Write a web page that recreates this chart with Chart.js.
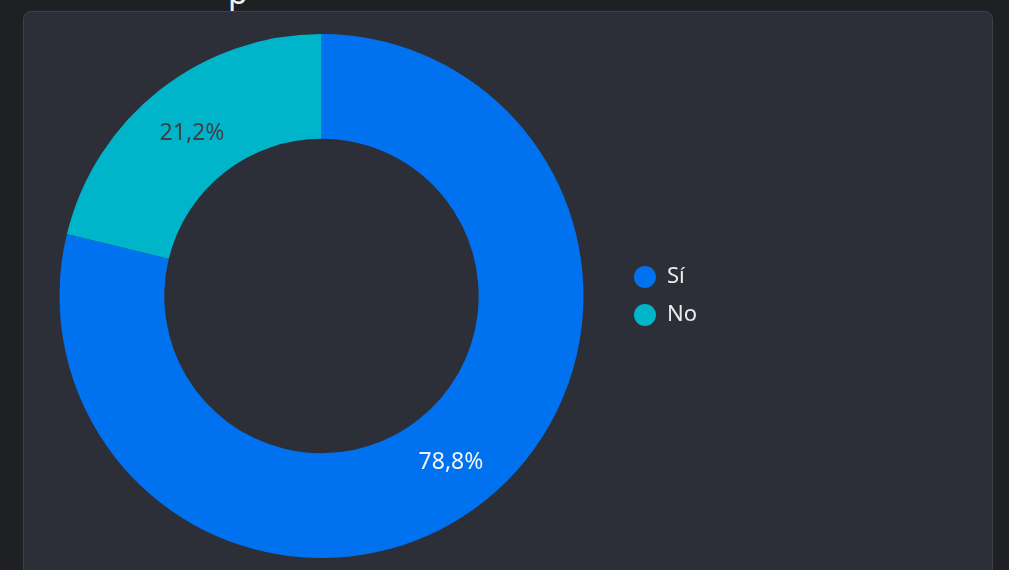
<!DOCTYPE html>
<html>
<head>
<meta charset="utf-8">
<script src="https://cdn.jsdelivr.net/npm/chart.js@4"></script>
<style>
html, body { margin: 0; padding: 0; background: #1f2024; overflow: hidden; width: 1009px; height: 570px; }
.title { position: absolute; left: 228px; top: -30px; font: 32px "Noto Sans", sans-serif; color: #f0f0f0; margin: 0; }
.card { position: absolute; left: 23px; top: 11px; width: 968px; height: 600px; background: #2c2f38; border: 1px solid #3d4049; border-radius: 8px; }
#wrap { position: absolute; left: 25px; top: 34px; width: 682px; height: 524px; }
</style>
</head>
<body>
<div class="title">p</div>
<div class="card"></div>
<div id="wrap"><canvas id="chart"></canvas></div>
<script>
(function () {

var labels = ['Sí', 'No'];
var values = [78.8, 21.2];
var colors = ['#0072f0', '#00b5c9'];
var labelColors = ['#f2f2f2', '#3b4049'];

// percentage labels in the middle of each slice
var sliceLabels = {
	id: 'sliceLabels',
	afterDatasetsDraw: function (chart) {
		var ctx = chart.ctx;
		var meta = chart.getDatasetMeta(0);
		ctx.save();
		ctx.font = '23px "Noto Sans", sans-serif';
		ctx.textAlign = 'center';
		ctx.textBaseline = 'middle';
		for (var i = 0, len = meta.data.length; i < len; i++) {
			var pos = meta.data[i].tooltipPosition();
			ctx.fillStyle = labelColors[i];
			ctx.fillText(values[i].toFixed(1).replace('.', ',') + '%', pos.x, pos.y + 2);
		}
		ctx.restore();
	}
};

new Chart(document.getElementById('chart'), {
	type: 'doughnut',
	data: {
		labels: labels,
		datasets: [{
			data: values,
			backgroundColor: colors,
			borderWidth: 0
		}]
	},
	options: {
		responsive: true,
		maintainAspectRatio: false,
		animation: false,
		cutout: '60%',
		layout: { padding: 0 },
		plugins: {
			tooltip: { enabled: false },
			legend: {
				position: 'right',
				align: 'center',
				labels: {
					color: '#ececec',
					font: { family: 'Noto Sans', size: 22 },
					usePointStyle: true,
					pointStyle: 'circle',
					pointStyleWidth: 22,
					boxHeight: 15.56,
					padding: 16
				}
			}
		}
	},
	plugins: [sliceLabels]
});

}());
</script>
</body>
</html>
